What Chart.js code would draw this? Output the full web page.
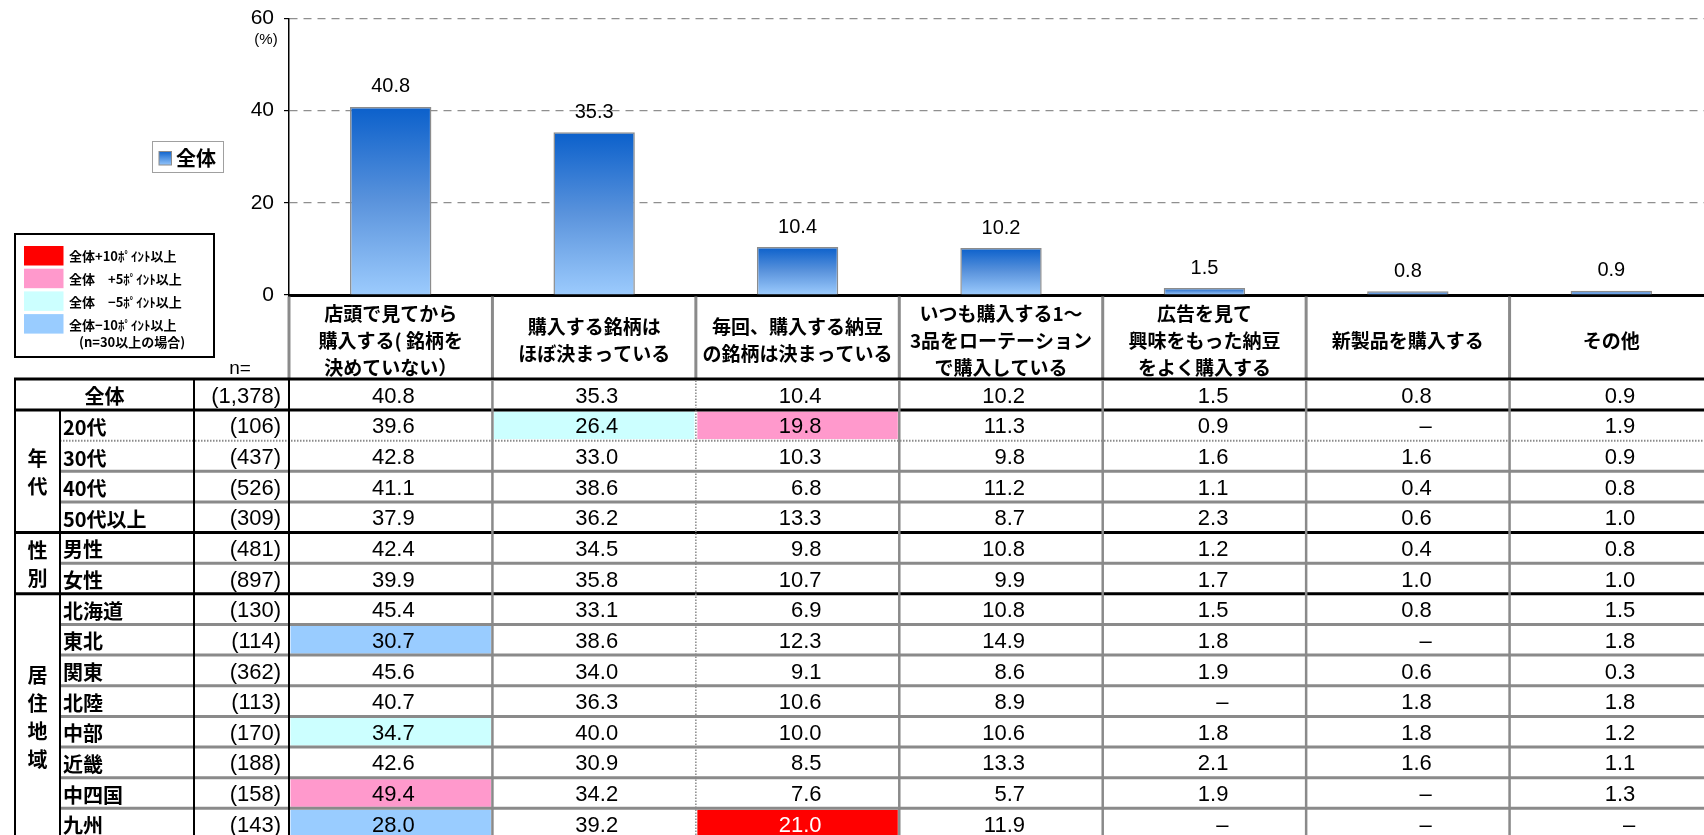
<!DOCTYPE html>
<html lang="ja">
<head>
<meta charset="utf-8">
<title>納豆の購入方法</title>
<script src="https://cdn.jsdelivr.net/npm/chart.js@4.4.1/dist/chart.umd.min.js"></script>
<style>
    html, body { margin: 0; padding: 0; background: #fff; overflow: hidden; }
    #wrap { width: 1704px; height: 835px; overflow: hidden; }
    canvas { display: block; }
</style>
</head>
<body>
<div id="wrap"><canvas id="barChart" width="1716" height="835"></canvas></div>
<script>
// header texts of the 7 answers (line breaks as in the original)
const categories = [
    ['店頭で見てから', '購入する( 銘柄を', '決めていない）'],
    ['購入する銘柄は', 'ほぼ決まっている'],
    ['毎回、購入する納豆', 'の銘柄は決まっている'],
    ['いつも購入する1～', '3品をローテーション', 'で購入している'],
    ['広告を見て', '興味をもった納豆', 'をよく購入する'],
    ['新製品を購入する'],
    ['その他']
];
const overall = [40.8, 35.3, 10.4, 10.2, 1.5, 0.8, 0.9];
const yTicks = [0, 20, 40, 60];

const rowLabels = ['全体', '20代', '30代', '40代', '50代以上', '男性', '女性',
    '北海道', '東北', '関東', '北陸', '中部', '近畿', '中四国', '九州'];
const sampleSizes = [1378, 106, 437, 526, 309, 481, 897, 130, 114, 362, 113, 170, 188, 158, 143];
const groupNames = ['年代', '性別', '居住地域'];
const groupSizes = [4, 2, 8];

// null = "-"
const tableValues = [
    [40.8, 35.3, 10.4, 10.2, 1.5, 0.8, 0.9],
    [39.6, 26.4, 19.8, 11.3, 0.9, null, 1.9],
    [42.8, 33.0, 10.3, 9.8, 1.6, 1.6, 0.9],
    [41.1, 38.6, 6.8, 11.2, 1.1, 0.4, 0.8],
    [37.9, 36.2, 13.3, 8.7, 2.3, 0.6, 1.0],
    [42.4, 34.5, 9.8, 10.8, 1.2, 0.4, 0.8],
    [39.9, 35.8, 10.7, 9.9, 1.7, 1.0, 1.0],
    [45.4, 33.1, 6.9, 10.8, 1.5, 0.8, 1.5],
    [30.7, 38.6, 12.3, 14.9, 1.8, null, 1.8],
    [45.6, 34.0, 9.1, 8.6, 1.9, 0.6, 0.3],
    [40.7, 36.3, 10.6, 8.9, null, 1.8, 1.8],
    [34.7, 40.0, 10.0, 10.6, 1.8, 1.8, 1.2],
    [42.6, 30.9, 8.5, 13.3, 2.1, 1.6, 1.1],
    [49.4, 34.2, 7.6, 5.7, 1.9, null, 1.3],
    [28.0, 39.2, 21.0, 11.9, null, null, null]
];

const legendTexts = ['全体+10ﾎﾟｲﾝﾄ以上', '全体　+5ﾎﾟｲﾝﾄ以上', '全体　−5ﾎﾟｲﾝﾄ以上', '全体−10ﾎﾟｲﾝﾄ以上'];
const legendColors = ['#ff0000', '#ff99cc', '#ccffff', '#99ccff'];

const NUM = '"Liberation Sans", "Noto Sans CJK JP", sans-serif';
const JP = '"Noto Sans CJK JP", sans-serif';

// cell colour: difference from 全体 (only when n >= 30)
function cellColor(value, col, n) {
    if (value == null || n < 30) return null;
    const diff = value - overall[col];
    if (diff >= 10) return legendColors[0];
    if (diff >= 5) return legendColors[1];
    if (diff <= -10) return legendColors[3];
    if (diff <= -5) return legendColors[2];
    return null;
}

function barGradient(context) {
    const chart = context.chart;
    if (!chart.chartArea || context.raw == null) return '#5b95dc';
    const top = chart.scales.y.getPixelForValue(context.raw);
    const bottom = chart.scales.y.getPixelForValue(0);
    const g = chart.ctx.createLinearGradient(0, top, 0, bottom);
    g.addColorStop(0, '#0b60cb');
    g.addColorStop(0.5, '#5a93dc');
    g.addColorStop(1, '#9ccbfd');
    return g;
}

function line(ctx, x1, y1, x2, y2, color, width, dash) {
    ctx.save();
    ctx.strokeStyle = color;
    ctx.lineWidth = width;
    ctx.setLineDash(dash || []);
    ctx.beginPath();
    ctx.moveTo(x1, y1);
    ctx.lineTo(x2, y2);
    ctx.stroke();
    ctx.restore();
}

const tablePlugin = {
    id: 'tablePlugin',
    afterDatasetsDraw(chart) {
        const ctx = chart.ctx;
        const meta = chart.getDatasetMeta(0);
        ctx.save();
        ctx.fillStyle = '#000';
        ctx.font = `20px ${NUM}`;
        ctx.textAlign = 'center';
        ctx.textBaseline = 'bottom';
        meta.data.forEach((bar, i) => {
            ctx.fillText(overall[i].toFixed(1), bar.x, bar.y - 10);
        });
        ctx.restore();
    },
    afterDraw(chart) {
        const ctx = chart.ctx;
        const xs = chart.scales.x;
        const step = xs.getPixelForValue(1) - xs.getPixelForValue(0);
        const colLeft = (i) => xs.getPixelForValue(i) - step / 2;
        const rightEdge = colLeft(categories.length);
        const headTop = chart.chartArea.bottom;
        const tableTop = 379;
        const firstRowH = 31;
        const rowH = 30.64;
        const rowTop = (r) => r === 0 ? tableTop : tableTop + firstRowH + (r - 1) * rowH;
        const xLeft = 15, xGroup = 60, xLabel = 194, xN = chart.chartArea.left;

        ctx.save();

        // legend of the series
        ctx.strokeStyle = '#a0a0a0';
        ctx.lineWidth = 1;
        ctx.strokeRect(152.5, 141.5, 71, 31);
        const sg = ctx.createLinearGradient(0, 151, 0, 166);
        sg.addColorStop(0, '#0b60cb');
        sg.addColorStop(1, '#9ccbfd');
        ctx.fillStyle = sg;
        ctx.fillRect(159, 151.5, 12.5, 13.5);
        ctx.strokeStyle = '#8c8c8c';
        ctx.strokeRect(159, 151.5, 12.5, 13.5);
        ctx.fillStyle = '#000';
        ctx.font = `bold 20px ${JP}`;
        ctx.textAlign = 'left';
        ctx.textBaseline = 'middle';
        ctx.fillText(chart.data.datasets[0].label, 176, 158);

        // colour legend
        ctx.lineWidth = 2;
        ctx.strokeStyle = '#000';
        ctx.strokeRect(15, 234, 199, 123);
        ctx.font = `bold 13px ${JP}`;
        legendTexts.forEach((t, i) => {
            const y = 246 + i * 22.7;
            ctx.fillStyle = legendColors[i];
            ctx.fillRect(24, y, 39.5, 19.5);
            ctx.fillStyle = '#000';
            ctx.fillText(t, 69, y + 10.5);
        });
        ctx.fillText('(n=30以上の場合)', 79, 342);

        // unit and n=
        ctx.textAlign = 'center';
        ctx.font = `15px ${NUM}`;
        ctx.fillText('(%)', 266, 40);
        ctx.font = `19px ${NUM}`;
        ctx.fillText('n=', 240, 369);

        // header
        ctx.font = `bold 19px ${JP}`;
        categories.forEach((lines, i) => {
            const cx = xs.getPixelForValue(i);
            const start = 340.5 - (lines.length - 1) * 27 / 2;
            lines.forEach((t, k) => ctx.fillText(t, cx, start + k * 27));
        });
        for (let i = 0; i <= categories.length; i++) {
            line(ctx, colLeft(i), headTop + 1.5, colLeft(i), tableTop, '#8a8a8a', 3);
        }

        // highlighted cells
        const nRows = rowLabels.length;
        tableValues.forEach((vals, r) => {
            vals.forEach((v, c) => {
                const col = cellColor(v, c, sampleSizes[r]);
                if (col && r > 0) {
                    ctx.fillStyle = col;
                    ctx.fillRect(colLeft(c) + 1.5, rowTop(r) + 1.5, step - 3, rowH - 3);
                }
            });
        });

        // horizontal lines
        const groupStarts = [1];
        groupSizes.forEach((s, i) => groupStarts.push(groupStarts[i] + s));
        line(ctx, xLeft - 1, tableTop, rightEdge, tableTop, '#000', 3);
        for (let r = 1; r <= nRows; r++) {
            const y = rowTop(r);
            if (groupStarts.includes(r)) {
                line(ctx, xLeft - 1, y, rightEdge, y, '#000', 3);
            } else if (r === 2) {
                line(ctx, xGroup, y, rightEdge, y, '#8a8a8a', 2, [1.5, 1.5]);
            } else {
                line(ctx, xGroup, y, rightEdge, y, '#8a8a8a', 3);
            }
        }

        // vertical lines
        const bottom = rowTop(nRows);
        line(ctx, xLeft, tableTop, xLeft, bottom, '#000', 2);
        line(ctx, xGroup, rowTop(1), xGroup, bottom, '#000', 2);
        line(ctx, xLabel, tableTop, xLabel, bottom, '#000', 2);
        line(ctx, xN, tableTop, xN, bottom, '#000', 2);
        for (let i = 1; i < categories.length; i++) {
            if (i === 2) {
                line(ctx, colLeft(i), tableTop + 1.5, colLeft(i), bottom, '#8a8a8a', 1.5, [1.5, 1.5]);
            } else {
                line(ctx, colLeft(i), tableTop + 1.5, colLeft(i), bottom, '#8a8a8a', 2.5);
            }
        }

        // group labels (vertical)
        ctx.fillStyle = '#000';
        ctx.font = `bold 20px ${JP}`;
        ctx.textAlign = 'center';
        groupNames.forEach((name, g) => {
            const mid = (rowTop(groupStarts[g]) + rowTop(groupStarts[g + 1])) / 2 + 1;
            const chars = name.split('');
            const start = mid - (chars.length - 1) * 28 / 2;
            chars.forEach((ch, k) => ctx.fillText(ch, (xLeft + xGroup) / 2, start + k * 28));
        });

        // row texts
        for (let r = 0; r < nRows; r++) {
            const cy = (rowTop(r) + rowTop(r + 1)) / 2 + 2;
            ctx.fillStyle = '#000';
            ctx.font = `bold 20px ${JP}`;
            if (r === 0) {
                ctx.textAlign = 'center';
                ctx.fillText(rowLabels[r], (xLeft + xLabel) / 2, cy);
            } else {
                ctx.textAlign = 'left';
                ctx.fillText(rowLabels[r], 63, cy);
            }
            ctx.font = `22px ${NUM}`;
            ctx.textAlign = 'right';
            ctx.fillText('(' + sampleSizes[r].toLocaleString('en-US') + ')', 281, cy);

            tableValues[r].forEach((v, c) => {
                const col = r > 0 ? cellColor(v, c, sampleSizes[r]) : null;
                ctx.fillStyle = col === legendColors[0] ? '#fff' : '#000';
                const text = v == null ? '–' : v.toFixed(1);
                ctx.fillText(text, xs.getPixelForValue(c) + 24, cy);
            });
        }

        ctx.restore();
    }
};

new Chart(document.getElementById('barChart').getContext('2d'), {
    type: 'bar',
    data: {
        labels: categories.map((c) => c.join('')),
        datasets: [{
            label: '全体',
            data: overall,
            backgroundColor: barGradient,
            borderColor: '#8c8c8c',
            borderWidth: 1.5,
            barPercentage: 0.4,
            categoryPercentage: 1
        }]
    },
    options: {
        responsive: false,
        animation: false,
        layout: { padding: { left: 0, right: 3, top: 18.5, bottom: 540 } },
        plugins: {
            legend: { display: false },
            tooltip: { enabled: false }
        },
        scales: {
            x: {
                ticks: { display: false },
                grid: { display: false },
                border: { color: '#000', width: 3 },
                afterFit(scale) {
                    scale.height = 0;
                    scale.paddingLeft = 0;
                    scale.paddingRight = 0;
                }
            },
            y: {
                min: yTicks[0],
                max: yTicks[yTicks.length - 1],
                afterBuildTicks(scale) {
                    scale.ticks = yTicks.map((v) => ({ value: v }));
                },
                ticks: { padding: 10, color: '#000', font: { family: NUM, size: 21 } },
                grid: {
                    color: '#8f8f8f',
                    lineWidth: 1.2,
                    tickLength: 5,
                    tickColor: '#000',
                    borderDash: [8, 6]
                },
                border: { color: '#000', width: 1.5, dash: [8, 6] },
                afterFit(scale) {
                    scale.width = 289;
                    scale.paddingTop = 0;
                    scale.paddingBottom = 0;
                }
            }
        }
    },
    plugins: [tablePlugin]
});
</script>
</body>
</html>
